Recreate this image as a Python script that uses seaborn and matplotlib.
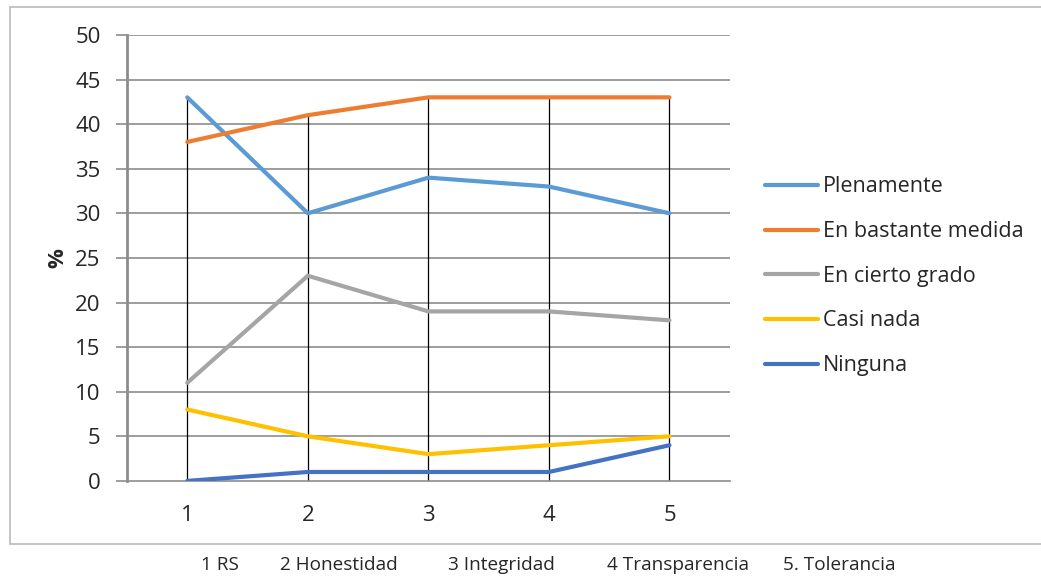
import matplotlib
matplotlib.use("Agg")
import matplotlib.pyplot as plt
from matplotlib.lines import Line2D
import seaborn as sns
import pandas as pd

categories = [1, 2, 3, 4, 5]
series_names = ["Plenamente", "En bastante medida", "En cierto grado", "Casi nada", "Ninguna"]
plenamente = [43, 30, 34, 33, 30]
bastante = [38, 41, 43, 43, 43]
cierto = [11, 23, 19, 19, 18]
casi_nada = [8, 5, 3, 4, 5]
ninguna = [0, 1, 1, 1, 4]
bottom_labels = ["1 RS", "2 Honestidad", "3 Integridad", "4 Transparencia", "5. Tolerancia"]
y_ticks = [0, 5, 10, 15, 20, 25, 30, 35, 40, 45, 50]

colors = ["#5B9BD5", "#ED7D31", "#A5A5A5", "#FFC000", "#4472C4"]

sns.set_theme(style="white")
plt.rcParams["font.family"] = ["Open Sans", "DejaVu Sans"]

all_vals = [plenamente, bastante, cierto, casi_nada, ninguna]
rows = []
for name, vals in zip(series_names, all_vals):
    for i, (c, v) in enumerate(zip(categories, vals)):
        rows.append({"pos": i + 0.5, "cat": c, "serie": name, "val": v})
df = pd.DataFrame(rows)

fig = plt.figure(figsize=(10.41, 5.78), dpi=100)
ax = fig.add_axes([0.122, 0.168, 0.579, 0.7716])

grid_c = "#8C8C8C"
for t in y_ticks[1:]:
    ax.axhline(t, color=grid_c, lw=1.2, zorder=0)

# drop lines from max of each category to the axis
maxes = df.groupby("pos")["val"].max()
ax.vlines(maxes.index, 0, maxes.values, color="black", lw=0.9, zorder=1)

sns.lineplot(data=df, x="pos", y="val", hue="serie", hue_order=series_names,
             palette=colors, linewidth=3, ax=ax, legend=False, zorder=3)

ax.set_xlim(0, 5)
ax.set_ylim(0, 50)
ax.set_yticks(y_ticks)
ax.set_yticklabels([str(t) for t in y_ticks], fontsize=16)
ax.set_xticks([i + 0.5 for i in range(len(categories))])
ax.set_xticklabels([str(c) for c in categories], fontsize=16)
ax.tick_params(axis="y", length=8, width=1.2, color=grid_c, pad=11, left=True)
ax.tick_params(axis="x", length=0, pad=17)
ax.set_xlabel("")
ax.set_ylabel("%", fontsize=16, fontweight="bold")
ax.yaxis.set_label_coords(-0.098, 0.5)

for s in ["top", "right"]:
    ax.spines[s].set_visible(False)
ax.spines["left"].set_color(grid_c)
ax.spines["left"].set_linewidth(2)
ax.spines["bottom"].set_color(grid_c)
ax.spines["bottom"].set_linewidth(1.2)

handles = [Line2D([0], [0], color=c, lw=3) for c in colors]
fig.legend(handles, series_names, loc="center left", bbox_to_anchor=(0.735, 0.522),
           frameon=False, fontsize=15.5, handlelength=2.45, handletextpad=0.22,
           labelspacing=1.1, borderpad=0, borderaxespad=0)

# chart border (right edge outside image)
border_c = "#BFBFBF"
fig.add_artist(Line2D([10 / 1041, 10 / 1041], [1 - 7 / 578, 1 - 544 / 578],
                      transform=fig.transFigure, color=border_c, lw=1.3))
fig.add_artist(Line2D([10 / 1041, 1.0], [1 - 7 / 578, 1 - 7 / 578],
                      transform=fig.transFigure, color=border_c, lw=1.3))
fig.add_artist(Line2D([10 / 1041, 1.0], [1 - 544 / 578, 1 - 544 / 578],
                      transform=fig.transFigure, color=border_c, lw=1.3))

bottom_x = [201, 280, 448, 607, 783]
for x, lab in zip(bottom_x, bottom_labels):
    fig.text(x / 1041, 1 - 565 / 578, lab, fontsize=13.7, ha="left", va="center")

fig.savefig("out.png", dpi=100)
